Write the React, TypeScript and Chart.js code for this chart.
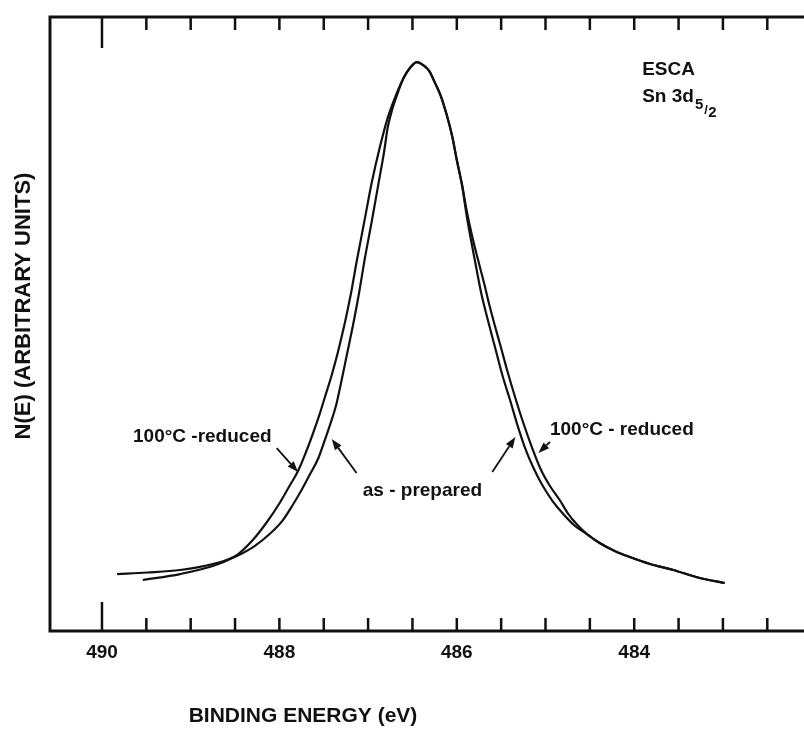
import React, { useEffect, useRef } from "react";
import { Chart, registerables } from "chart.js";

Chart.register(...registerables);

// Binding energy (eV) and intensity (arbitrary units)
const reducedEnergy = [
  489.83, 489.49, 489.12, 488.75, 488.48, 488.3, 488.14, 487.99, 487.88, 487.79, 487.7, 487.62, 487.55,
  487.49, 487.41, 487.34, 487.26, 487.19, 487.13, 487.05, 486.96, 486.87, 486.78, 486.69, 486.6, 486.52,
  486.45,
  486.38, 486.31, 486.25, 486.18, 486.11, 486.05, 486.0, 485.94, 485.89, 485.83, 485.76, 485.69, 485.63,
  485.57, 485.51, 485.43, 485.34, 485.25, 485.15, 485.05, 484.95, 484.84, 484.75, 484.64, 484.52, 484.39,
  484.22, 484.05, 483.82, 483.56, 483.26, 482.98,
];
const reducedCounts = [
  9.62, 9.87, 10.28, 11.26, 12.72, 15.17, 18.11, 21.37, 24.14, 26.43, 29.53, 32.63, 35.56,
  38.34, 42.09, 45.84, 50.73, 55.63, 60.52, 66.56, 73.41, 79.12, 84.01, 87.6, 90.54, 92.33,
  93.15,
  92.66, 91.68, 89.88, 87.6, 84.34, 80.91, 77.16, 73.08, 69.0, 64.93, 60.85, 56.93, 53.34,
  50.08, 46.98, 42.74, 38.34, 34.26, 30.18, 26.59, 23.98, 21.7, 19.58, 17.62, 15.99, 14.68,
  13.38, 12.4, 11.26, 10.28, 8.97, 8.16,
];

const preparedEnergy = [
  489.54, 489.12, 488.75, 488.48, 488.28, 488.11, 487.96, 487.85, 487.75, 487.66, 487.56, 487.5, 487.43,
  487.36, 487.31, 487.24, 487.17, 487.1, 487.04, 486.96, 486.88, 486.82, 486.78, 486.73, 486.67,
  486.6, 486.52, 486.45,
  486.38, 486.31, 486.25, 486.18, 486.11, 486.05, 486.0,
  485.94, 485.89, 485.84, 485.78, 485.72, 485.65, 485.57, 485.49, 485.4, 485.32, 485.23, 485.13, 485.03,
  484.92, 484.8, 484.68,
  484.52, 484.39, 484.22, 484.05, 483.82, 483.56, 483.26, 482.98,
];
const preparedCounts = [
  8.65, 9.62, 10.93, 12.56, 14.19, 16.15, 18.43, 20.88, 23.33, 25.77, 28.55, 30.99, 33.93,
  37.19, 40.46, 45.35, 50.24, 55.63, 60.85, 67.05, 73.57, 78.47, 82.38, 85.32, 87.93,
  90.54, 92.33, 93.15,
  92.66, 91.68, 89.88, 87.6, 84.34, 80.91, 77.16,
  72.92, 68.19, 64.11, 59.54, 55.14, 51.06, 46.66, 42.25, 38.01, 34.09, 30.18, 26.75, 23.98,
  21.53, 19.41, 17.62,
  15.99, 14.68, 13.38, 12.4, 11.26, 10.28, 8.97, 8.16,
];

const xTickValues = [490, 489.5, 489, 488.5, 488, 487.5, 487, 486.5, 486, 485.5, 485, 484.5, 484, 483.5, 483, 482.5];
const xTickLabels = [490, 488, 486, 484];

// annotation texts with anchor [eV, counts]
const textNotes = [
  { text: "100°C -reduced", x: 489.65, y: 31.16 },
  { text: "as - prepared", x: 487.06, y: 22.35 },
  { text: "100°C - reduced", x: 484.95, y: 32.3 },
  { text: "ESCA", x: 483.91, y: 91.0 },
];
// arrows: from [eV, counts] to tip [eV, counts]
const arrows = [
  { x1: 488.03, y1: 30.18, x2: 487.79, y2: 26.26 },
  { x1: 487.13, y1: 26.1, x2: 487.41, y2: 31.65 },
  { x1: 485.6, y1: 26.26, x2: 485.34, y2: 31.97 },
  { x1: 484.95, y1: 31.16, x2: 485.08, y2: 29.36 },
];
const subLabel = { x: 483.91, y: 86.6 };

const FONT = "'Liberation Sans', Arial, Helvetica, sans-serif";
const INK = "#111111";

const framePlugin = {
  id: "framePlugin",
  afterDraw(chart: any) {
    const ctx = chart.ctx as CanvasRenderingContext2D;
    const xs = chart.scales.x;
    const ys = chart.scales.y;
    const a = chart.chartArea;
    ctx.save();
    ctx.strokeStyle = INK;
    ctx.fillStyle = INK;
    ctx.lineCap = "butt";
    // frame
    ctx.lineWidth = 3;
    ctx.beginPath();
    ctx.moveTo(a.right, a.top);
    ctx.lineTo(a.left - 1.5, a.top);
    ctx.moveTo(a.left, a.top);
    ctx.lineTo(a.left, a.bottom);
    ctx.moveTo(a.left - 1.5, a.bottom);
    ctx.lineTo(a.right, a.bottom);
    ctx.stroke();
    // ticks
    ctx.lineWidth = 2.5;
    for (const v of xTickValues) {
      const px = xs.getPixelForValue(v);
      const lenB = v === 490 ? 29 : 13;
      const lenT = v === 490 ? 31 : 13;
      ctx.beginPath();
      ctx.moveTo(px, a.bottom);
      ctx.lineTo(px, a.bottom - lenB);
      ctx.moveTo(px, a.top);
      ctx.lineTo(px, a.top + lenT);
      ctx.stroke();
    }
    // tick labels
    ctx.font = `bold 19px ${FONT}`;
    ctx.textAlign = "center";
    ctx.textBaseline = "middle";
    for (const v of xTickLabels) {
      ctx.fillText(String(v), xs.getPixelForValue(v), a.bottom + 22);
    }
    // axis titles
    ctx.font = `bold 21px ${FONT}`;
    ctx.fillText("BINDING ENERGY (eV)", 303, 716);
    ctx.save();
    ctx.translate(24, 306);
    ctx.rotate(-Math.PI / 2);
    ctx.font = `bold 22px ${FONT}`;
    ctx.fillText("N(E) (ARBITRARY UNITS)", 0, 0);
    ctx.restore();
    // notes
    ctx.font = `bold 19px ${FONT}`;
    ctx.textAlign = "left";
    ctx.textBaseline = "alphabetic";
    for (const n of textNotes) {
      ctx.fillText(n.text, xs.getPixelForValue(n.x), ys.getPixelForValue(n.y));
    }
    // Sn 3d5/2
    const sx = xs.getPixelForValue(subLabel.x);
    const sy = ys.getPixelForValue(subLabel.y);
    ctx.fillText("Sn 3d", sx, sy);
    const w = ctx.measureText("Sn 3d").width;
    ctx.font = `bold 15px ${FONT}`;
    ctx.fillText("5", sx + w + 1, sy + 7);
    const w5 = ctx.measureText("5").width;
    ctx.font = `bold 13px ${FONT}`;
    ctx.fillText("/", sx + w + w5 + 2, sy + 12);
    ctx.font = `bold 15px ${FONT}`;
    ctx.fillText("2", sx + w + w5 + 6, sy + 15);
    // arrows
    ctx.lineWidth = 1.8;
    for (const ar of arrows) {
      const x1 = xs.getPixelForValue(ar.x1);
      const y1 = ys.getPixelForValue(ar.y1);
      const x2 = xs.getPixelForValue(ar.x2);
      const y2 = ys.getPixelForValue(ar.y2);
      const ang = Math.atan2(y2 - y1, x2 - x1);
      const hl = 11;
      const hw = 4;
      const bx = x2 - hl * Math.cos(ang);
      const by = y2 - hl * Math.sin(ang);
      ctx.beginPath();
      ctx.moveTo(x1, y1);
      ctx.lineTo(bx, by);
      ctx.stroke();
      ctx.beginPath();
      ctx.moveTo(x2, y2);
      ctx.lineTo(bx + hw * Math.sin(ang), by - hw * Math.cos(ang));
      ctx.lineTo(bx - hw * Math.sin(ang), by + hw * Math.cos(ang));
      ctx.closePath();
      ctx.fill();
    }
    ctx.restore();
  },
};

export default function App() {
  const ref = useRef<HTMLCanvasElement | null>(null);
  useEffect(() => {
    if (!ref.current) return;
    const toPts = (xs: number[], ys: number[]) => xs.map((x, i) => ({ x, y: ys[i] }));
    const chart = new Chart(ref.current, {
      type: "line",
      data: {
        datasets: [
          {
            label: "100°C-reduced",
            data: toPts(reducedEnergy, reducedCounts),
            borderColor: INK,
            borderWidth: 2.2,
            pointRadius: 0,
            fill: false,
            cubicInterpolationMode: "monotone",
          },
          {
            label: "as-prepared",
            data: toPts(preparedEnergy, preparedCounts),
            borderColor: INK,
            borderWidth: 2.2,
            pointRadius: 0,
            fill: false,
            cubicInterpolationMode: "monotone",
          },
        ],
      },
      options: {
        responsive: false,
        animation: false,
        devicePixelRatio: 1,
        layout: { padding: { left: 50, top: 17, right: 0, bottom: 98 } },
        plugins: { legend: { display: false }, tooltip: { enabled: false }, title: { display: false } },
        scales: {
          x: { type: "linear", min: 482.086, max: 490.586, reverse: true, display: false },
          y: { type: "linear", min: 0.33, max: 100.5, display: false },
        },
      },
      plugins: [framePlugin],
    });
    return () => chart.destroy();
  }, []);
  return (
    <div style={{ position: "absolute", left: 0, top: 0, width: 804, height: 729, background: "#fff" }}>
      <canvas ref={ref} width={804} height={729} style={{ width: 804, height: 729, display: "block" }} />
    </div>
  );
}
